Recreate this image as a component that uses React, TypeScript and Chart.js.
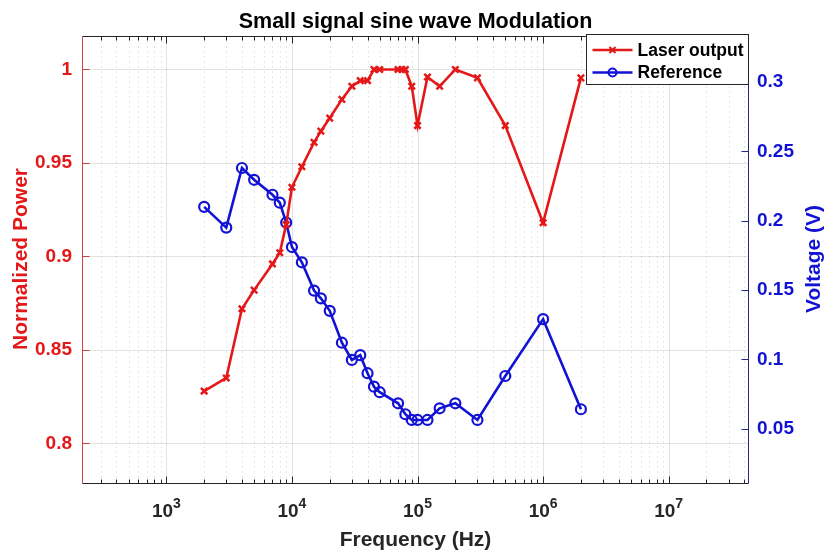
import React, { useEffect, useRef } from 'react';
import { Chart, registerables } from 'chart.js';

Chart.register(...registerables);

// ---------------- data ----------------
const laserFreq = [2000, 3000, 4000, 5000, 7000, 8000, 9000, 10000, 12000, 15000, 17000, 20000, 25000, 30000, 35000, 40000, 45000, 50000, 70000, 75000, 80000, 90000, 100000, 120000, 150000, 200000, 300000, 500000, 1000000, 2000000];
const laserPower = [0.828, 0.835, 0.872, 0.882, 0.896, 0.902, 0.917, 0.937, 0.948, 0.961, 0.967, 0.974, 0.984, 0.991, 0.994, 0.994, 1.0, 1.0, 1.0, 1.0, 1.0, 0.991, 0.970, 0.996, 0.991, 1.0, 0.9955, 0.970, 0.918, 0.9955];

const refFreq = [2000, 3000, 4000, 5000, 7000, 8000, 9000, 10000, 12000, 15000, 17000, 20000, 25000, 30000, 35000, 40000, 45000, 50000, 70000, 80000, 90000, 100000, 120000, 150000, 200000, 300000, 500000, 1000000, 2000000];
const refVoltage = [0.21, 0.195, 0.238, 0.2295, 0.2187, 0.213, 0.1987, 0.181, 0.170, 0.1496, 0.144, 0.135, 0.112, 0.0996, 0.103, 0.090, 0.0803, 0.0763, 0.0683, 0.0604, 0.0563, 0.0563, 0.0563, 0.0647, 0.0683, 0.0563, 0.088, 0.129, 0.064];

const leftTicks = [0.8, 0.85, 0.9, 0.95, 1];
const rightTicks = [0.05, 0.1, 0.15, 0.2, 0.25, 0.3];
const decadeTicks = [1e3, 1e4, 1e5, 1e6, 1e7];
const decadeExponents = ['3', '4', '5', '6', '7'];
const minorMultipliers = [2, 3, 4, 5, 6, 7, 8, 9];
const minorDecades = [1e2, 1e3, 1e4, 1e5, 1e6, 1e7];

const xRange = [213, 4.36e7];
const leftRange = [0.7783, 1.0179];
const rightRange = [0.0101, 0.3332];

const titleText = 'Small signal sine wave Modulation';
const xTitle = 'Frequency (Hz)';
const leftTitle = 'Normalized Power';
const rightTitle = 'Voltage (V)';
const seriesNames = ['Laser output', 'Reference'];

// ---------------- style ----------------
const FONT = '"Liberation Sans", Arial, Helvetica, sans-serif';
const RED = 'rgb(228,24,24)';
const BLUE = 'rgb(18,18,212)';
const DARK = 'rgb(38,38,38)';
const LEFT_AXIS = 'rgb(200,70,70)';
const RIGHT_AXIS = 'rgb(40,40,130)';

const minorX: number[] = [];
minorDecades.forEach((d) => minorMultipliers.forEach((m) => {
  const v = m * d;
  if (v > xRange[0] && v < xRange[1]) minorX.push(v);
}));

function seg(ctx: CanvasRenderingContext2D, x1: number, y1: number, x2: number, y2: number) {
  ctx.beginPath();
  ctx.moveTo(x1, y1);
  ctx.lineTo(x2, y2);
  ctx.stroke();
}

const matlabPlugin = {
  id: 'matlabLook',
  beforeDatasetsDraw(chart: any) {
    const { ctx, chartArea: a, scales } = chart;
    const x = scales.x;
    const yL = scales.yL;
    ctx.save();
    ctx.lineWidth = 1;
    ctx.strokeStyle = 'rgba(38,38,38,0.11)';
    ctx.setLineDash([2, 3]);
    minorX.forEach((v) => {
      const px = Math.round(x.getPixelForValue(v)) + 0.5;
      seg(ctx, px, a.top, px, a.bottom);
    });
    ctx.setLineDash([]);
    ctx.strokeStyle = 'rgba(38,38,38,0.13)';
    decadeTicks.forEach((v) => {
      const px = Math.round(x.getPixelForValue(v)) + 0.5;
      seg(ctx, px, a.top, px, a.bottom);
    });
    leftTicks.forEach((v) => {
      const py = Math.round(yL.getPixelForValue(v)) + 0.5;
      seg(ctx, a.left, py, a.right, py);
    });
    ctx.restore();
  },
  afterDatasetsDraw(chart: any) {
    const { ctx, chartArea: a, scales } = chart;
    const x = scales.x;
    const yL = scales.yL;
    const yR = scales.yR;
    const L = Math.round(a.left) + 0.5;
    const R = Math.round(a.right) - 0.5;
    const T = Math.round(a.top) + 0.5;
    const B = Math.round(a.bottom) - 0.5;
    ctx.save();
    ctx.lineWidth = 1;
    ctx.strokeStyle = DARK;
    seg(ctx, L, T, R, T);
    seg(ctx, L, B, R, B);
    minorX.forEach((v) => {
      const px = Math.round(x.getPixelForValue(v)) + 0.5;
      seg(ctx, px, B, px, B - 4);
      seg(ctx, px, T, px, T + 4);
    });
    decadeTicks.forEach((v) => {
      const px = Math.round(x.getPixelForValue(v)) + 0.5;
      seg(ctx, px, B, px, B - 7);
      seg(ctx, px, T, px, T + 7);
    });
    ctx.strokeStyle = LEFT_AXIS;
    seg(ctx, L, T, L, B);
    leftTicks.forEach((v) => {
      const py = Math.round(yL.getPixelForValue(v)) + 0.5;
      seg(ctx, L, py, L + 7, py);
    });
    ctx.strokeStyle = RIGHT_AXIS;
    seg(ctx, R, T, R, B);
    rightTicks.forEach((v) => {
      const py = Math.round(yR.getPixelForValue(v)) + 0.5;
      seg(ctx, R, py, R - 7, py);
    });
    ctx.restore();
  },
  afterDraw(chart: any) {
    const { ctx, chartArea: a, scales } = chart;
    const x = scales.x;
    const cx = (a.left + a.right) / 2;
    const cy = (a.top + a.bottom) / 2;
    ctx.save();
    ctx.fillStyle = 'rgb(0,0,0)';
    ctx.font = `bold 21.5px ${FONT}`;
    ctx.textAlign = 'center';
    ctx.textBaseline = 'alphabetic';
    ctx.fillText(titleText, cx, 27.5);
    ctx.fillStyle = DARK;
    ctx.font = `bold 21px ${FONT}`;
    ctx.fillText(xTitle, cx, 546);
    ctx.save();
    ctx.fillStyle = RED;
    ctx.translate(26.5, cy - 1);
    ctx.rotate(-Math.PI / 2);
    ctx.fillText(leftTitle, 0, 0);
    ctx.restore();
    ctx.save();
    ctx.fillStyle = BLUE;
    ctx.translate(820, cy - 1);
    ctx.rotate(-Math.PI / 2);
    ctx.fillText(rightTitle, 0, 0);
    ctx.restore();
    ctx.fillStyle = DARK;
    ctx.textAlign = 'left';
    decadeTicks.forEach((v, i) => {
      const px = x.getPixelForValue(v);
      ctx.font = `bold 19px ${FONT}`;
      const w1 = ctx.measureText('10').width;
      ctx.font = `bold 14px ${FONT}`;
      const w2 = ctx.measureText(decadeExponents[i]).width;
      const start = px - (w1 + w2) / 2;
      ctx.font = `bold 19px ${FONT}`;
      ctx.fillText('10', start, 517);
      ctx.font = `bold 14px ${FONT}`;
      ctx.fillText(decadeExponents[i], start + w1, 507.5);
    });
    // legend
    const bx = Math.round(a.right) - 162.5;
    const by = Math.round(a.top) - 1.5;
    const bw = 162;
    const bh = 50;
    ctx.fillStyle = '#ffffff';
    ctx.fillRect(bx, by, bw, bh);
    ctx.strokeStyle = DARK;
    ctx.lineWidth = 1;
    ctx.strokeRect(bx, by, bw, bh);
    const ds = chart.data.datasets;
    const rows = [by + 15.5, by + 38];
    ds.forEach((d: any, i: number) => {
      const ry = rows[i];
      const lx1 = bx + 6;
      const lx2 = bx + 46;
      const mx = (lx1 + lx2) / 2;
      ctx.strokeStyle = d.borderColor;
      ctx.lineWidth = 2.5;
      seg(ctx, lx1, ry, lx2, ry);
      ctx.lineWidth = 2;
      if (i === 0) {
        const r = 3;
        seg(ctx, mx - r, ry - r, mx + r, ry + r);
        seg(ctx, mx - r, ry + r, mx + r, ry - r);
      } else {
        ctx.beginPath();
        ctx.arc(mx, ry, 4, 0, Math.PI * 2);
        ctx.stroke();
      }
      ctx.fillStyle = 'rgb(0,0,0)';
      ctx.font = `bold 17.5px ${FONT}`;
      ctx.textAlign = 'left';
      ctx.textBaseline = 'middle';
      ctx.fillText(d.label, bx + 51, ry + 1);
    });
    ctx.restore();
  },
};

function fmt(v: number) {
  return String(Math.round(v * 1000) / 1000);
}

export default function App() {
  const ref = useRef<HTMLCanvasElement | null>(null);
  useEffect(() => {
    if (!ref.current) return;
    const chart = new Chart(ref.current, {
      type: 'line',
      data: {
        datasets: [
          {
            label: seriesNames[0],
            data: laserFreq.map((f, i) => ({ x: f, y: laserPower[i] })),
            yAxisID: 'yL',
            borderColor: RED,
            backgroundColor: RED,
            borderWidth: 2.6,
            pointStyle: 'crossRot',
            pointRadius: 4.5,
            pointBorderWidth: 2.5,
            pointBorderColor: RED,
            tension: 0,
          },
          {
            label: seriesNames[1],
            data: refFreq.map((f, i) => ({ x: f, y: refVoltage[i] })),
            yAxisID: 'yR',
            borderColor: BLUE,
            backgroundColor: BLUE,
            borderWidth: 2.6,
            pointStyle: 'circle',
            pointRadius: 5,
            pointBorderWidth: 2.2,
            pointBorderColor: BLUE,
            pointBackgroundColor: 'rgba(0,0,0,0)',
            tension: 0,
          },
        ],
      },
      options: {
        responsive: false,
        animation: false,
        layout: { padding: { top: 36, left: 0, right: 0, bottom: 0 } },
        plugins: {
          legend: { display: false },
          title: { display: false },
          tooltip: { enabled: false },
        },
        scales: {
          x: {
            type: 'logarithmic',
            position: 'bottom',
            min: xRange[0],
            max: xRange[1],
            ticks: { display: false },
            grid: { display: false, drawTicks: false },
            border: { display: false },
            afterBuildTicks: (s: any) => {
              s.ticks = decadeTicks.map((v) => ({ value: v }));
            },
            afterFit: (s: any) => {
              s.height = 66;
            },
          },
          yL: {
            type: 'linear',
            position: 'left',
            min: leftRange[0],
            max: leftRange[1],
            ticks: {
              color: RED,
              font: { family: FONT, size: 19, weight: 'bold' },
              padding: 10,
              callback: (v: any) => fmt(Number(v)),
            },
            grid: { display: false, drawTicks: false },
            border: { display: false },
            afterBuildTicks: (s: any) => {
              s.ticks = leftTicks.map((v) => ({ value: v }));
            },
            afterFit: (s: any) => {
              s.width = 82;
            },
          },
          yR: {
            type: 'linear',
            position: 'right',
            min: rightRange[0],
            max: rightRange[1],
            ticks: {
              color: BLUE,
              font: { family: FONT, size: 19, weight: 'bold' },
              padding: 8,
              callback: (v: any) => fmt(Number(v)),
            },
            grid: { display: false, drawTicks: false },
            border: { display: false },
            afterBuildTicks: (s: any) => {
              s.ticks = rightTicks.map((v) => ({ value: v }));
            },
            afterFit: (s: any) => {
              s.width = 76;
            },
          },
        },
      } as any,
      plugins: [matlabPlugin],
    });
    return () => chart.destroy();
  }, []);
  return (
    <div style={{ position: 'absolute', left: 0, top: 0, width: 825, height: 550, background: '#fff' }}>
      <canvas ref={ref} width={825} height={550} style={{ display: 'block' }} />
    </div>
  );
}
